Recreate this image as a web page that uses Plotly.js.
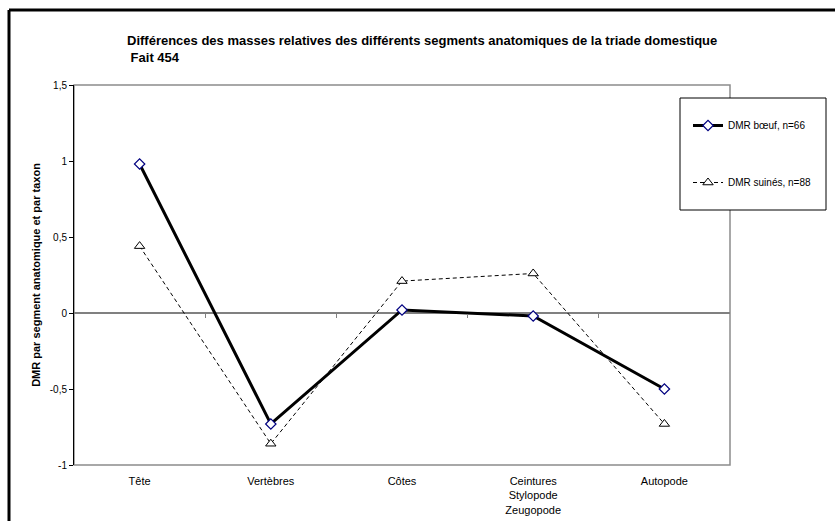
<!DOCTYPE html>
<html>
<head>
<meta charset="utf-8">
<script src="https://cdn.plot.ly/plotly-3.0.1.min.js"></script>
<style>html,body{margin:0;padding:0;background:#fff;}#chart{width:835px;height:521px;}</style>
</head>
<body>
<div id="chart"></div>
<script>
const categories = ["Tête", "Vertèbres", "Côtes", "Ceintures<br>Stylopode<br>Zeugopode", "Autopode"];
const boeufValues = [0.98, -0.73, 0.02, -0.02, -0.50];
const suinesValues = [0.44, -0.86, 0.21, 0.26, -0.73];
const yTickValues = [-1, -0.5, 0, 0.5, 1, 1.5];
const yTickLabels = ["-1", "-0,5", "0", "0,5", "1", "1,5"];
const boeufName = "DMR bœuf, n=66";
const suinesName = "DMR suinés, n=88";
const titleText = "Différences des masses relatives des différents segments anatomiques de la triade domestique<br> Fait 454";
const yTitleText = "DMR par segment anatomique et par taxon";

const FONT = "Liberation Sans, Arial, sans-serif";
const catIdx = categories.map((_, i) => i);
const boundaries = [0.5, 1.5, 2.5, 3.5];

const traces = [
  {
    x: catIdx, y: boeufValues, name: boeufName, type: "scatter", mode: "lines+markers",
    legendgroup: "a",
    line: {color: "#000000", width: 3},
    marker: {symbol: "diamond", size: 8, color: "#ffffff", line: {color: "#000080", width: 1.2}}
  },
  {
    x: catIdx, y: suinesValues, name: suinesName, type: "scatter", mode: "lines+markers",
    legendgroup: "b",
    line: {color: "#000000", width: 1, dash: "4px,3px"},
    marker: {symbol: "triangle-up", size: 9, color: "#ffffff", line: {color: "#000000", width: 1}}
  },
  {
    x: boundaries, y: boundaries.map(() => 0), xaxis: "x2", yaxis: "y",
    type: "scatter", mode: "markers", marker: {opacity: 0}, showlegend: false, hoverinfo: "skip"
  }
];

const layout = {
  width: 835, height: 521,
  margin: {l: 74, r: 105, t: 85, b: 56},
  paper_bgcolor: "#ffffff", plot_bgcolor: "#ffffff",
  separators: ", ",
  font: {family: FONT, size: 10, color: "#000000"},
  title: {
    text: titleText,
    font: {family: FONT, size: 13, color: "#000000", weight: "bold"},
    xref: "container", yref: "container",
    x: 127 / 835, xanchor: "left",
    y: 1 - 45 / 521, yanchor: "top"
  },
  showlegend: true,
  legend: {
    x: (688 - 74) / 656, xanchor: "left",
    y: (465 - 111) / 380, yanchor: "top",
    bgcolor: "rgba(0,0,0,0)", borderwidth: 0,
    traceorder: "grouped", tracegroupgap: 38,
    font: {family: FONT, size: 10, color: "#000000"}
  },
  xaxis: {
    range: [-0.5, 4.5],
    tickmode: "array", tickvals: catIdx, ticktext: categories,
    showline: false, showgrid: false, zeroline: false,
    ticks: "", ticklabelstandoff: 8,
    tickfont: {family: FONT, size: 11, color: "#000000"},
    fixedrange: true
  },
  xaxis2: {
    overlaying: "x", anchor: "free", position: 0.4,
    range: [-0.5, 4.5],
    tickmode: "array", tickvals: boundaries,
    showticklabels: false, ticks: "outside", ticklen: 4, tickwidth: 1, tickcolor: "#808080",
    showline: false, showgrid: false, zeroline: false
  },
  yaxis: {
    range: [-1, 1.5],
    tickmode: "array", tickvals: yTickValues, ticktext: yTickLabels,
    showgrid: false,
    zeroline: true, zerolinecolor: "#808080", zerolinewidth: 2,
    showline: true, linecolor: "#000000", linewidth: 1,
    ticks: "outside", ticklen: 4, tickcolor: "#000000", tickwidth: 1,
    tickfont: {family: FONT, size: 10, color: "#000000"},
    title: {text: yTitleText, font: {family: FONT, size: 11, color: "#000000", weight: "bold"}, standoff: 6},
    fixedrange: true
  },
  shapes: [
    {type: "rect", xref: "paper", yref: "paper", x0: 0, x1: 1, y0: 0, y1: 1,
     line: {color: "#8c8c8c", width: 1.5}, layer: "below"},
    {type: "rect", xref: "paper", yref: "paper",
     x0: (680 - 74) / 656, x1: (826 - 74) / 656, y0: (465 - 210) / 380, y1: (465 - 98) / 380,
     line: {color: "#000000", width: 1}, fillcolor: "#ffffff", layer: "above"},
    {type: "line", xref: "paper", yref: "paper",
     x0: (9 - 74) / 656, x1: (1000 - 74) / 656, y0: (465 - 10) / 380, y1: (465 - 10) / 380,
     line: {color: "#000000", width: 3}, layer: "above"},
    {type: "line", xref: "paper", yref: "paper",
     x0: (9 - 74) / 656, x1: (9 - 74) / 656, y0: (465 - 10) / 380, y1: (465 - 600) / 380,
     line: {color: "#000000", width: 3}, layer: "above"}
  ]
};

Plotly.newPlot("chart", traces, layout, {displayModeBar: false, staticPlot: true});
</script>
</body>
</html>
